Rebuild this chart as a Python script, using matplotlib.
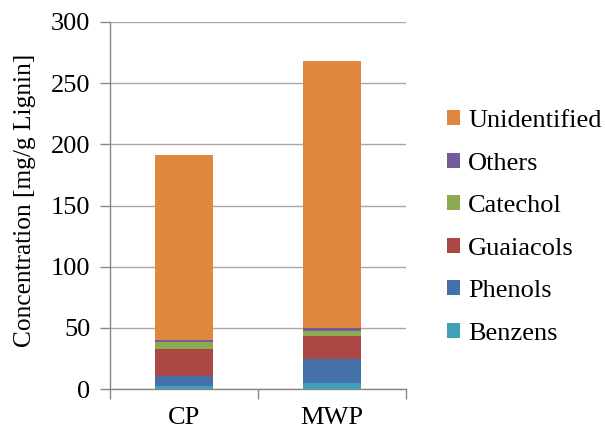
import matplotlib
matplotlib.use("Agg")
import matplotlib.pyplot as plt
import numpy as np
from matplotlib.patches import Patch

categories = ["CP", "MWP"]
series_names = ["Benzens", "Phenols", "Guaiacols", "Catechol", "Others", "Unidentified"]
benzens = [2.5, 4.6]
phenols = [8.4, 19.9]
guaiacols = [21.8, 19.1]
catechol = [5.4, 4.1]
others = [1.9, 2.2]
unidentified = [151.0, 218.0]
yticks = [0, 50, 100, 150, 200, 250, 300]

colors = ["#3FA0B8", "#4571AA", "#AB4744", "#8DAA50", "#765A99", "#DF873E"]
series = [benzens, phenols, guaiacols, catechol, others, unidentified]

plt.rcParams['font.family'] = ['Liberation Serif', 'DejaVu Serif']

fig = plt.figure(figsize=(6.05, 4.3), dpi=100)
ax = fig.add_axes([110/605, 1-389/430, (406-110)/605, (389-22)/430])

x = np.arange(len(categories))
bottom = np.zeros(len(categories))
for vals, c in zip(series, colors):
    ax.bar(x, vals, width=0.39, bottom=bottom, color=c, zorder=3)
    bottom += np.array(vals)

ax.set_xlim(-0.5, 1.5)
ax.set_ylim(0, 300)
ax.set_yticks(yticks)
ax.set_yticklabels([str(v) for v in yticks], fontsize=19)
ax.yaxis.grid(True, color="#A6A6A6", linewidth=1.0, zorder=0)
ax.set_axisbelow(True)

ax.set_xticks(x)
ax.set_xticklabels(categories, fontsize=19)
ax.tick_params(axis='x', length=0, pad=13)
ax.set_xticks([-0.5, 0.5, 1.5], minor=True)
ax.tick_params(axis='x', which='minor', length=7, color="#888888", width=1)
ax.tick_params(axis='y', length=7, color="#888888", width=1, pad=7)

for s in ["top", "right"]:
    ax.spines[s].set_visible(False)
for s in ["left", "bottom"]:
    ax.spines[s].set_color("#888888")
    ax.spines[s].set_linewidth(1)

ax.set_ylabel("Concentration [mg/g Lignin]", fontsize=18.3)
ax.yaxis.set_label_coords(-0.25, 0.515)

handles = [Patch(facecolor=c, edgecolor='none') for c in colors][::-1]
labels = series_names[::-1]
leg = fig.legend(handles, labels, loc='upper left', bbox_to_anchor=(447/605, 1-110/430),
                 frameon=False, fontsize=19, handlelength=0.5, handleheight=0.5,
                 handletextpad=0.3, labelspacing=0.78, borderpad=0, borderaxespad=0)

fig.savefig("out.png", dpi=100)
